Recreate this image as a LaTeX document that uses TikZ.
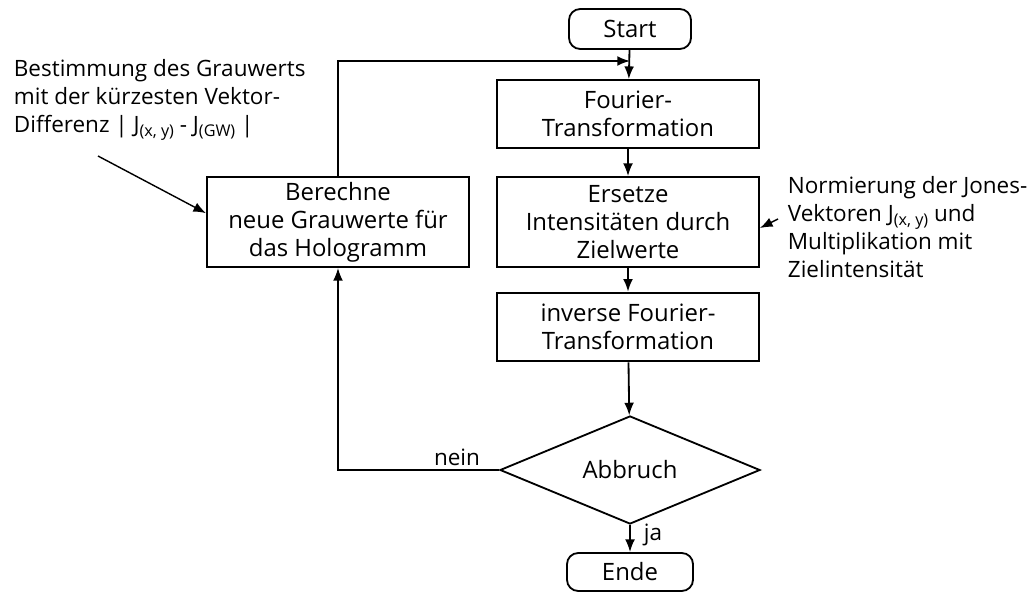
\documentclass[tikz,border=0pt]{standalone}
\usepackage{fontspec}
\setmainfont{Open Sans}
\usetikzlibrary{shapes.geometric,arrows.meta}

% small lowered index, e.g. J_(x,y)
\newcommand{\jidx}[1]{\raisebox{-0.35ex}{\fontsize{11.5}{10}\selectfont #1}}

\begin{document}
\begin{tikzpicture}[x=0.025cm,y=-0.025cm,line width=1.3pt,
    >={Latex[length=9pt,width=7pt]},
    font=\fontsize{17}{20}\selectfont]

  \useasboundingbox (0,0) rectangle (1032,592);

  \begin{scope}[every node/.style={draw,align=center,inner sep=2pt,
      minimum width=6.55cm}]
    \node[rounded corners=8pt,minimum width=3.05cm,minimum height=1cm]
      (start) at (630,29) {Start};
    \node[minimum height=1.7cm] (fourier) at (628,114)
      {Fourier-\\Transformation};
    \node[minimum height=2.25cm] (ersetze) at (628,222)
      {Ersetze\\Intensitäten durch\\Zielwerte};
    \node[minimum height=1.72cm] (inverse) at (628,327)
      {inverse Fourier-\\Transformation};
    \node[diamond,aspect=2.4,inner sep=0pt,minimum width=6.5cm,
      minimum height=2.7cm] (abbruch) at (630,470) {Abbruch};
    \node[rounded corners=8pt,minimum width=3.15cm,minimum height=0.95cm]
      (ende) at (630,572) {Ende};
    \node[minimum width=6.55cm,minimum height=2.25cm] (berechne) at (338,222)
      {Berechne\\neue Grauwerte für\\das Hologramm};
  \end{scope}

  % side notes
  \begin{scope}[every node/.style={align=left,inner sep=0pt,anchor=west,
      font=\fontsize{16}{20}\selectfont}]
    \node (grauwert) at (13,100)
      {Bestimmung des Grauwerts\\mit der kürzesten Vektor-\\
       Differenz | J\jidx{(x, y)} - J\jidx{(GW)} |};
    \node (norm) at (787,227)
      {Normierung der Jones-\\Vektoren J\jidx{(x, y)} und\\
       Multiplikation mit\\Zielintensität};
    \node[anchor=center] (nein) at (457,457) {nein};
    \node[anchor=center] (ja) at (653,535) {ja};
  \end{scope}

  \coordinate (join) at (630,61);
  \coordinate (grauwert-tip) at (98,156);
  \coordinate (norm-tip) at (778,219);

  \path[->] (start) edge (fourier);
  \path[->] (fourier) edge (ersetze);
  \path[->] (ersetze) edge (inverse);
  \path[->] (inverse) edge (abbruch);
  \path[->] (abbruch) edge (ende);

  % back loop
  \draw[->] (abbruch.west) -- (berechne.south |- abbruch.west) -- (berechne.south);
  \draw[->] (berechne.north) |- (join);

  \draw[->,line width=1pt] (grauwert-tip) -- ([yshift=0.22cm]berechne.west);
  \draw[->,line width=1pt] (norm-tip) -- ([yshift=-0.15cm]ersetze.east);

\end{tikzpicture}
\end{document}
